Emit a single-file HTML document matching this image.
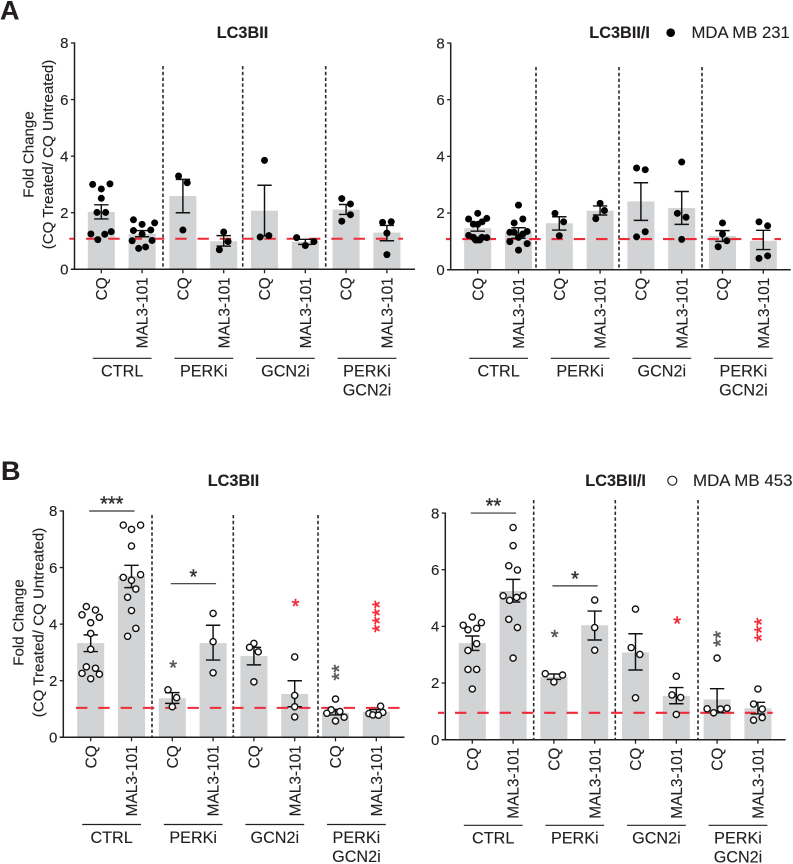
<!DOCTYPE html>
<html lang="en">
<head>
<meta charset="utf-8">
<title>LC3B fold change charts</title>
<style>
html,body{margin:0;padding:0;background:#fff;}
svg{display:block;font-family:"Liberation Sans",Arial,sans-serif;}
text{fill:#231f20;stroke:#231f20;stroke-width:0.12px;}
</style>
</head>
<body>
<svg id="figure" xmlns="http://www.w3.org/2000/svg" width="793" height="864" viewBox="0 0 793 864">
  <rect width="793" height="864" fill="#ffffff"/>
  <text x="0" y="19.5" font-size="27" font-weight="bold">A</text>
  <text x="1" y="480" font-size="27" font-weight="bold">B</text>

  <text x="216.7" y="38" font-size="16.3" font-weight="bold">LC3BII</text>
  <text x="589.3" y="38" font-size="16.3" font-weight="bold">LC3BII/I</text>
  <circle cx="670.7" cy="32.7" r="4.3" fill="#000"/>
  <text x="691.5" y="38" font-size="16.7">MDA MB 231</text>

  <text x="207.7" y="486" font-size="16.3" font-weight="bold">LC3BII</text>
  <text x="585.3" y="486" font-size="16.3" font-weight="bold">LC3BII/I</text>
  <circle cx="672.3" cy="480.7" r="4.5" fill="#fff" stroke="#231f20" stroke-width="1.2"/>
  <text x="693" y="486" font-size="16.9">MDA MB 453</text>

  <g font-size="15.1" text-anchor="middle">
    <text transform="translate(33.5 154.5) rotate(-90)">Fold Change</text>
    <text transform="translate(53 154.5) rotate(-90)">(CQ Treated/ CQ Untreated)</text>
  </g>
  <g font-size="15.1" text-anchor="middle">
    <text transform="translate(23.5 622.5) rotate(-90)">Fold Change</text>
    <text transform="translate(43.3 622.5) rotate(-90)">(CQ Treated/ CQ Untreated)</text>
  </g>
  <g id="chart-a-left"></g>
  <g id="chart-a-right"></g>
  <g id="chart-b-left"></g>
  <g id="chart-b-right"></g>
</svg>
<script>
// Shared categories and tick labels
var conditions = ['CQ', 'MAL3-101', 'CQ', 'MAL3-101', 'CQ', 'MAL3-101', 'CQ', 'MAL3-101'];
var treatmentGroups = [['CTRL'], ['PERKi'], ['GCN2i'], ['PERKi', 'GCN2i']];
var yTickLabels = [0, 2, 4, 6, 8];
var baselineA = 1.08;
var baselineB1 = 1.04;
var baselineB2 = 0.95;

// Panel A, LC3BII
var aLeftMeans = [2.03, 1.25, 2.59, 0.99, 2.07, 0.98, 2.11, 1.30];
var aLeftErrHigh = [2.28, 1.37, 3.18, 1.19, 2.97, 1.06, 2.29, 1.55];
var aLeftErrLow = [1.78, 1.15, 2.00, 0.82, 1.18, 0.88, 1.94, 1.01];
var aLeftPoints = [
  [3.00, 3.02, 2.84, 2.51, 2.01, 2.01, 1.25, 1.24, 1.33, 1.05],
  [1.75, 1.59, 1.64, 1.37, 1.39, 1.25, 1.01, 1.02, 0.74, 0.79],
  [3.30, 3.06, 1.39],
  [1.32, 0.98, 0.69],
  [3.85, 1.14, 1.19],
  [1.12, 0.98, 0.84],
  [2.50, 2.31, 1.93, 1.70],
  [1.66, 1.68, 1.28, 0.52]
];
var aLeftJitter = [
  [-2, 2, 0, 0, -1, 1, -2.4, 0.8, 2.3, -0.8],
  [-2, 0, 2.9, -2, 2, 0, -2.3, 2.3, -0.8, 0.8],
  [-1, 1, 0],
  [0, 1, -1],
  [0, -1, 1],
  [-2, 2, 0],
  [-1, 1, 1, -1],
  [-1, 1, 0, 0]
];

// Panel A, LC3BII/I
var aRightMeans = [1.46, 1.32, 1.64, 2.08, 2.41, 2.18, 1.19, 1.02];
var aRightErrHigh = [1.62, 1.48, 1.87, 2.25, 3.07, 2.76, 1.38, 1.39];
var aRightErrLow = [1.36, 1.11, 1.40, 1.93, 1.74, 1.60, 1.00, 0.71];
var aRightPoints = [
  [1.99, 1.79, 1.81, 1.69, 1.61, 1.60, 1.21, 1.14, 1.14, 1.13, 1.05, 1.05, 1.05],
  [2.28, 1.79, 1.65, 1.32, 1.32, 1.35, 1.26, 1.14, 0.99, 0.92, 0.69],
  [1.99, 1.69, 1.20],
  [2.34, 2.09, 1.80],
  [3.59, 3.53, 1.34, 1.16],
  [3.80, 1.99, 1.85, 1.07],
  [1.65, 1.26, 1.02, 0.81],
  [1.69, 1.55, 0.49, 0.40]
];
var aRightJitter = [
  [0, -2.1, 2.1, 1, -1, 0, -2.1, -1, 1, 2.1, -0.5, 0.5, 0],
  [0, 1, -1, -2, -1, 2, 1, 0, -2, 2, 0],
  [-1, 1, 0],
  [0, 1, -1],
  [-1, 1, 1, -1],
  [0, -1, 1, 0],
  [0, 0, 1, -1],
  [-1, 1, 1, -1]
];

// Panel B, LC3BII
var bLeftMeans = [3.33, 5.70, 1.38, 3.33, 2.87, 1.53, 0.87, 0.90];
var bLeftErrHigh = [3.62, 6.08, 1.58, 3.96, 3.18, 2.00, 0.99, 0.98];
var bLeftErrLow = [3.03, 5.29, 1.20, 2.73, 2.56, 1.08, 0.79, 0.80];
var bLeftPoints = [
  [4.62, 4.50, 4.33, 4.24, 4.05, 3.67, 3.11, 2.49, 2.44, 2.26, 2.23, 2.07],
  [7.50, 7.50, 7.35, 6.76, 5.65, 5.75, 5.55, 5.24, 4.95, 4.48, 3.85, 3.57],
  [1.68, 1.40, 1.08],
  [4.38, 3.38, 2.28],
  [3.32, 3.18, 3.02, 1.96],
  [2.84, 1.48, 1.08, 0.72],
  [1.35, 0.97, 0.91, 0.85, 0.71, 0.58],
  [1.10, 0.88, 0.84, 0.79, 0.78]
];
var bLeftJitter = [
  [-1, 1.1, -2, 2, 0, 0, 0, -1, 1.1, -2, 2, 0],
  [-1.9, 2.1, 0, 0, -1.9, 2.1, 0, 1, -0.9, 0, 1, -0.9],
  [-1, 1, 0],
  [0, 0, 0],
  [0, -1, 1, 0],
  [0, 0, 0, 0],
  [0, -1, 1, -2, 2, 0],
  [1, 1.5, -1.7, -0.8, 0.5]
];

// Panel B, LC3BII/I
var bRightMeans = [3.41, 5.25, 2.22, 4.04, 3.08, 1.54, 1.42, 1.11];
var bRightErrHigh = [3.66, 5.66, 2.32, 4.54, 3.74, 1.84, 1.80, 1.32];
var bRightErrLow = [3.15, 4.86, 2.13, 3.52, 2.46, 1.27, 0.95, 0.91];
var bRightPoints = [
  [4.33, 4.13, 4.04, 3.88, 3.93, 3.39, 3.15, 2.48, 2.48, 1.79],
  [7.49, 6.85, 6.14, 5.99, 5.08, 5.08, 5.02, 4.92, 4.25, 3.96, 2.88],
  [2.33, 2.28, 2.04],
  [4.93, 3.96, 3.16],
  [4.61, 3.25, 3.01, 1.48],
  [2.24, 1.58, 1.49, 0.89],
  [2.88, 1.09, 1.08, 1.11, 0.95],
  [1.79, 1.26, 1.08, 0.78, 0.69]
];
var bRightJitter = [
  [0, 2.1, -2.1, -1, 1, 1, -1, -1, 1, 0],
  [0, 0, -1, 1, -2.3, 2.3, 0.8, -0.8, -1, 1, 0],
  [-2, 2, 0],
  [0, 0, 0],
  [0, -1, 1, 0],
  [0, -1, 1, 0],
  [0, -2.3, 0.8, 2.3, -0.8],
  [0, -1, 1, 1, -1]
];

var NS = 'http://www.w3.org/2000/svg';
var INK = '#231f20';
var GREY_STAR = '#58595b';
var RED = '#ef2b3a';
var JITTER_UNIT = 4.33;
var STAR_RISE = 9.6;

function mk(parent, tag, attrs, txt) {
  var n = document.createElementNS(NS, tag);
  for (var k in attrs) { n.setAttribute(k, attrs[k]); }
  if (txt !== undefined) { n.textContent = txt; }
  parent.appendChild(n);
  return n;
}

function drawPanel(p) {
  var root = document.getElementById(p.id);
  function x(i) { return p.x0 + i * p.step; }
  function y(v) { return p.y0 - v * p.unit; }

  // bars
  p.means.forEach(function (m, i) {
    var bar = mk(root, 'rect', { x: x(i) - 13.5, y: y(m), width: 27, height: p.y0 - y(m), fill: '#d1d3d4' });
    
    
  });

  // vertical separators
  p.separators.forEach(function (sx, i) {
    var sep = mk(root, 'line', { x1: sx, x2: sx, y1: p.sepTop, y2: p.y0, stroke: '#2b2b2b', 'stroke-width': 1.6, 'stroke-dasharray': '3.4 2.4' });
    
    
  });

  // red baseline
  var base = mk(root, 'line', { x1: p.redStart, x2: p.redEnd, y1: y(p.baseline), y2: y(p.baseline), stroke: RED, 'stroke-width': 2.1, 'stroke-dasharray': '11.4 10.9', 'stroke-dashoffset': p.redOffset });
  
  

  // error bars
  p.means.forEach(function (m, i) {
    var d = 'M' + (x(i) - 7.2) + ' ' + y(p.errHigh[i]) + 'H' + (x(i) + 7.2) +
            'M' + x(i) + ' ' + y(p.errHigh[i]) + 'V' + y(p.errLow[i]) +
            'M' + (x(i) - 7.2) + ' ' + y(p.errLow[i]) + 'H' + (x(i) + 7.2);
    var err = mk(root, 'path', { d: d, stroke: '#111', 'stroke-width': 1.45, fill: 'none' });
    
    
  });

  // points
  p.points.forEach(function (vals, i) {
    vals.forEach(function (v, j) {
      var dot = mk(root, 'circle', {
        cx: x(i) + p.jitter[i][j] * JITTER_UNIT,
        cy: y(v),
        r: p.open ? 3.1 : 3.5,
        fill: p.open ? '#fff' : '#000',
        stroke: p.open ? '#111' : 'none',
        'stroke-width': p.open ? 1.4 : 0
      });
      
      
    });
  });

  // y axis
  var yAxis = mk(root, 'line', { x1: p.axisX, x2: p.axisX, y1: y(8) - 0.6, y2: p.y0, stroke: INK, 'stroke-width': 1.5 });
  
  
  yTickLabels.forEach(function (t) {
    var tick = mk(root, 'line', { x1: p.axisX - 3.6, x2: p.axisX, y1: y(t), y2: y(t), stroke: INK, 'stroke-width': 1.3 });
    
    
    var lab = mk(root, 'text', { x: p.axisX - 6, y: y(t) + 5.2, 'font-size': 15, 'text-anchor': 'end' }, t);
    
    
  });

  // x axis
  var xAxis = mk(root, 'line', { x1: p.axisX - 3.6, x2: p.axisEnd, y1: p.y0, y2: p.y0, stroke: INK, 'stroke-width': 1.5 });
  
  
  conditions.forEach(function (c, i) {
    var tick = mk(root, 'line', { x1: x(i), x2: x(i), y1: p.y0, y2: p.y0 + 4, stroke: INK, 'stroke-width': 1.3 });
    
    
    var lab = mk(root, 'text', { transform: 'translate(' + (x(i) + 5.6) + ' ' + (p.y0 + 8) + ') rotate(-90)', 'font-size': 15.4, 'text-anchor': 'end' }, c);
    
    
  });

  // treatment group brackets and labels
  treatmentGroups.forEach(function (lines, g) {
    var a = x(g * 2) - 8.5;
    var b = x(g * 2 + 1) + 9.5;
    var rule = mk(root, 'line', { x1: a, x2: b, y1: p.groupRuleY, y2: p.groupRuleY, stroke: INK, 'stroke-width': 1.2 });
    
    
    lines.forEach(function (ln, k) {
      var lab = mk(root, 'text', { x: (a + b) / 2, y: p.groupRuleY + 18.4 + k * 19, 'font-size': 16.2, 'text-anchor': 'middle' }, ln);
      
      
    });
  });

  // significance brackets
  (p.brackets || []).forEach(function (br, i) {
    var rule = mk(root, 'line', { x1: x(br.from) - 1.5, x2: x(br.to) + 3, y1: y(br.value), y2: y(br.value), stroke: '#333', 'stroke-width': 1.2 });
    
    
    var cx = (x(br.from) + x(br.to)) / 2 + 0.7;
    var star = mk(root, 'text', { x: cx, y: y(br.value) - 10 + STAR_RISE, 'font-size': 20, 'text-anchor': 'middle', style: 'fill:#333;stroke:#333;stroke-width:0.4px' }, br.label);
    
    
  });

  // significance marks over a single bar
  (p.marks || []).forEach(function (mkr, i) {
    var cx = x(mkr.group) + 0.8;
    var cy = y(mkr.value);
    var attrs;
    if (mkr.label.length > 1) {
      attrs = { transform: 'translate(' + (cx + STAR_RISE) + ' ' + cy + ') rotate(-90)', 'font-size': 20.5, 'text-anchor': 'middle' };
    } else {
      attrs = { x: cx, y: cy + STAR_RISE, 'font-size': 20, 'text-anchor': 'middle' };
    }
    var col = mkr.red ? RED : GREY_STAR;
    attrs.style = 'fill:' + col + ';stroke:' + col + ';stroke-width:0.5px';
    var star = mk(root, 'text', attrs, mkr.label);
    
    
  });
}

drawPanel({
  id: 'chart-a-left', key: 'a-left', open: false,
  x0: 101.3, step: 40.8, y0: 269.3, unit: 28.29, axisX: 74.5, axisEnd: 415,
  separators: [163, 242.7, 325.7], sepTop: 66,
  baseline: baselineA, redStart: 69.3, redEnd: 403, redOffset: 5.6,
  groupRuleY: 358.3,
  means: aLeftMeans, errHigh: aLeftErrHigh, errLow: aLeftErrLow, points: aLeftPoints, jitter: aLeftJitter
});
drawPanel({
  id: 'chart-a-right', key: 'a-right', open: false,
  x0: 477.7, step: 40.8, y0: 269.7, unit: 28.33, axisX: 450.7, axisEnd: 790.7,
  separators: [536, 619, 702], sepTop: 67,
  baseline: baselineA, redStart: 446, redEnd: 781, redOffset: 6,
  groupRuleY: 358.3,
  means: aRightMeans, errHigh: aRightErrHigh, errLow: aRightErrLow, points: aRightPoints, jitter: aRightJitter
});
drawPanel({
  id: 'chart-b-left', key: 'b-left', open: true,
  x0: 90.7, step: 40.8, y0: 737.3, unit: 28.29, axisX: 63.3, axisEnd: 404.5,
  separators: [152, 233.3, 318], sepTop: 515,
  baseline: baselineB1, redStart: 76, redEnd: 400, redOffset: 0,
  groupRuleY: 824.5,
  means: bLeftMeans, errHigh: bLeftErrHigh, errLow: bLeftErrLow, points: bLeftPoints, jitter: bLeftJitter,
  brackets: [
    { from: 0, to: 1, value: 8.0, label: '***' },
    { from: 2, to: 3, value: 5.43, label: '*' }
  ],
  marks: [
    { group: 2, value: 2.56, label: '*', red: false },
    { group: 6, value: 2.29, label: '**', red: false },
    { group: 5, value: 4.73, label: '*', red: true },
    { group: 7, value: 4.27, label: '****', red: true }
  ]
});
drawPanel({
  id: 'chart-b-right', key: 'b-right', open: true,
  x0: 472.3, step: 40.8, y0: 739.7, unit: 28.33, axisX: 445.3, axisEnd: 785.7,
  separators: [533.7, 615.3, 698], sepTop: 500,
  baseline: baselineB2, redStart: 438, redEnd: 772.7, redOffset: 5.3,
  groupRuleY: 825.3,
  means: bRightMeans, errHigh: bRightErrHigh, errLow: bRightErrLow, points: bRightPoints, jitter: bRightJitter,
  brackets: [
    { from: 0, to: 1, value: 8.0, label: '**' },
    { from: 2, to: 3, value: 5.43, label: '*' }
  ],
  marks: [
    { group: 2, value: 3.71, label: '*', red: false },
    { group: 6, value: 3.56, label: '**', red: false },
    { group: 5, value: 4.19, label: '*', red: true },
    { group: 7, value: 3.88, label: '***', red: true }
  ]
});
</script>
</body>
</html>
